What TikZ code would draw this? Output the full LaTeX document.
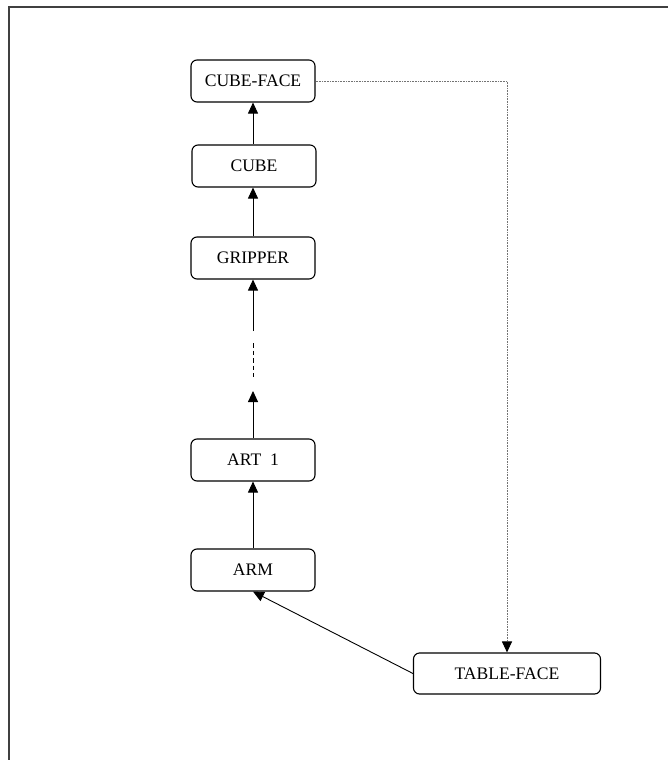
\documentclass[tikz,border=0pt]{standalone}
\usepackage{fontspec}
\setmainfont{Liberation Serif}
\usetikzlibrary{arrows.meta}
\begin{document}
\begin{tikzpicture}[x=1pt,y=-1pt,
  box/.style={draw, line width=1.1pt, rounded corners=6pt, minimum width=124pt, minimum height=42pt, inner sep=0pt, font=\fontsize{17.6}{20}\selectfont},
  conn/.style={line width=0.9pt, -{Triangle[length=11pt,width=10pt]}},
  dots/.style={line width=1pt, draw=black!55, dash pattern=on 1pt off 0.6pt, -{Triangle[length=11pt,width=10pt,color=black,fill=black]}}]
\useasboundingbox (0,0) rectangle (668,760);
\draw[line width=1.6pt, black!75] (9,760) -- (9,7) -- (668,7);
\node[box] (cubeface) at (253,81) {CUBE-FACE};
\node[box] (cube) at (254,166) {CUBE};
\node[box] (gripper) at (253,258) {GRIPPER};
\node[box] (art1) at (253,460) {ART\ \ 1};
\node[box] (arm) at (253,570) {ARM};
\node[box, minimum width=187pt, minimum height=41pt] (tableface) at (507,673.5) {TABLE-FACE};
\coordinate (g1) at (253,331);
\coordinate (d1) at (253,343);
\coordinate (d2) at (253,377);
\coordinate (a1) at (253,391);
\draw[conn] (cube.north -| cubeface.south) -- (cubeface.south);
\draw[conn] (gripper.north) -- (gripper.north |- cube.south);
\draw[conn] (g1) -- (gripper.south);
\draw[line width=0.9pt, dash pattern=on 4.5pt off 3pt] (d1) -- (d2);
\draw[conn] (art1.north) -- (a1);
\draw[conn] (arm.north) -- (art1.south);
\draw[conn] (tableface.west) -- (arm.south);
\draw[dots] (cubeface.east) -| (tableface.north);
\end{tikzpicture}
\end{document}
